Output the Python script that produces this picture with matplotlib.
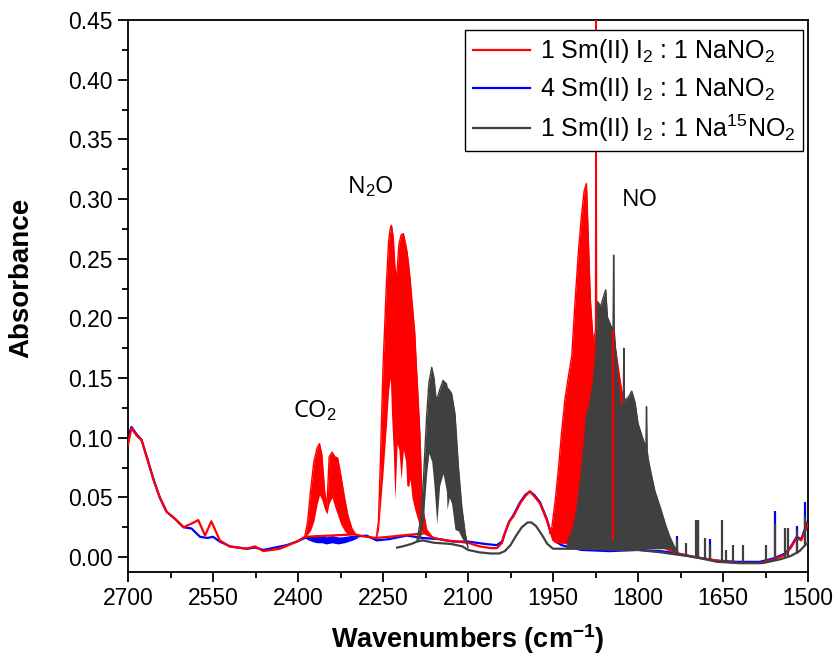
import numpy as np
import matplotlib
matplotlib.use("Agg")
import matplotlib.pyplot as plt

plt.rcParams['font.family'] = ['Liberation Sans', 'DejaVu Sans']
plt.rcParams['mathtext.fontset'] = 'custom'
plt.rcParams['mathtext.rm'] = 'Liberation Sans'
plt.rcParams['mathtext.it'] = 'Liberation Sans:italic'
plt.rcParams['mathtext.bf'] = 'Liberation Sans:bold'

RED = '#ff0000'
BLUE = '#0000ff'
GRAY = '#404040'

# ---------------- 1 SmI2 : 1 NaNO2 (red) ----------------
red_wn = [2700, 2694, 2685, 2676, 2667, 2655, 2644, 2632, 2617, 2602, 2588, 2576, 2564,
          2553, 2538, 2520, 2490, 2476, 2461, 2432, 2402, 2388, 2300, 2280, 2262,
          2175, 2160, 2140, 2120, 2100, 2080, 2060, 2049, 2040, 2035, 2027, 2020, 2008,
          1999, 1991, 1983, 1973, 1961, 1955, 1945, 1935, 1900, 1850, 1800, 1760, 1730,
          1700, 1660, 1625, 1585, 1560, 1540, 1530, 1520, 1512, 1505, 1500]
red_ab = [0.094, 0.108, 0.102, 0.098, 0.084, 0.065, 0.050, 0.038, 0.032, 0.025, 0.028, 0.031, 0.018,
          0.030, 0.014, 0.0087, 0.007, 0.009, 0.005, 0.007, 0.013, 0.017, 0.019, 0.017, 0.016,
          0.020, 0.016, 0.014, 0.013, 0.012, 0.009, 0.0075, 0.0075, 0.012, 0.020, 0.030, 0.034, 0.045,
          0.051, 0.055, 0.051, 0.045, 0.031, 0.022, 0.013, 0.012, 0.012, 0.011, 0.010, 0.009, 0.003,
          0.000, -0.003, -0.005, -0.005, -0.002, 0.002, 0.008, 0.016, 0.014, 0.022, 0.028]

# CO2 band envelope
red_co2_wn = [2388, 2383, 2378, 2372, 2366, 2362, 2358, 2353, 2349, 2345, 2340, 2335, 2330,
              2325, 2318, 2312, 2305, 2298]
red_co2_hi = [0.017, 0.030, 0.055, 0.080, 0.092, 0.095, 0.086, 0.055, 0.042, 0.084, 0.088, 0.084, 0.083,
              0.070, 0.050, 0.035, 0.024, 0.019]
red_co2_lo = [0.017, 0.019, 0.022, 0.030, 0.045, 0.052, 0.048, 0.040, 0.036, 0.045, 0.050, 0.042, 0.035,
              0.028, 0.022, 0.019, 0.019, 0.019]

# N2O band envelope
red_n2o_wn = [2262, 2258, 2255, 2250, 2244, 2240, 2237, 2235, 2232, 2229, 2227, 2225, 2222, 2218,
              2214, 2210, 2208, 2205, 2202, 2199, 2194, 2191, 2188, 2185, 2182, 2179, 2173, 2165]
red_n2o_hi = [0.016, 0.030, 0.075, 0.159, 0.229, 0.265, 0.276, 0.278, 0.268, 0.243, 0.236, 0.240, 0.262, 0.270,
              0.271, 0.262, 0.257, 0.246, 0.232, 0.215, 0.188, 0.159, 0.132, 0.104, 0.062, 0.039, 0.023, 0.018]
red_n2o_lo = [0.016, 0.022, 0.040, 0.070, 0.110, 0.140, 0.150, 0.120, 0.090, 0.048, 0.070, 0.095, 0.090, 0.065,
              0.090, 0.080, 0.060, 0.059, 0.065, 0.050, 0.040, 0.035, 0.030, 0.026, 0.022, 0.020, 0.018, 0.017]

# NO band envelope
red_no_wn = [1956, 1952, 1946, 1940, 1935, 1929, 1923, 1917, 1911, 1905, 1900, 1895, 1891, 1888, 1884,
             1879, 1875, 1874, 1873, 1868, 1862, 1857, 1852, 1847, 1841, 1835, 1829, 1825, 1815, 1805,
             1795, 1785, 1775, 1765, 1755, 1745]
red_no_hi = [0.020, 0.025, 0.048, 0.076, 0.104, 0.132, 0.151, 0.168, 0.215, 0.257, 0.285, 0.307, 0.313, 0.271,
             0.215, 0.180, 0.190, 0.460, 0.190, 0.190, 0.200, 0.200, 0.196, 0.190, 0.179, 0.159, 0.140, 0.129,
             0.110, 0.090, 0.070, 0.050, 0.035, 0.022, 0.014, 0.010]
red_no_lo = [0.020, 0.014] + [0.012] * 34

# isolated sharp red lines: (wavenumber, bottom, top)
red_lines = [(1845, 0.014, 0.190)]

# ---------------- 4 SmI2 : 1 NaNO2 (blue) ----------------
blue_wn = [2700, 2694, 2685, 2676, 2667, 2655, 2644, 2632, 2617, 2602, 2588, 2573, 2560, 2550,
           2538, 2520, 2490, 2476, 2461, 2420, 2402, 2388, 2367, 2350, 2330, 2302, 2279, 2261,
           2240, 2208, 2180, 2150, 2126, 2100, 2070, 2049, 2040, 2035, 2027, 2020, 2008, 1999,
           1991, 1983, 1973, 1961, 1955, 1945, 1935, 1900, 1850, 1800, 1760, 1730, 1700, 1660,
           1625, 1585, 1560, 1540, 1530, 1520, 1512, 1505, 1500]
blue_ab = [0.100, 0.109, 0.103, 0.098, 0.084, 0.065, 0.050, 0.038, 0.032, 0.025, 0.024, 0.017, 0.016, 0.017,
           0.013, 0.009, 0.007, 0.008, 0.006, 0.010, 0.013, 0.016, 0.016, 0.015, 0.015, 0.017, 0.018, 0.014,
           0.015, 0.018, 0.016, 0.015, 0.013, 0.013, 0.011, 0.010, 0.013, 0.020, 0.030, 0.035, 0.046, 0.052,
           0.055, 0.052, 0.046, 0.032, 0.022, 0.013, 0.010, 0.006, 0.005, 0.006, 0.005, 0.003, 0.000, -0.003,
           -0.004, -0.004, -0.001, 0.003, 0.009, 0.017, 0.015, 0.024, 0.030]
# CO2 region thickness
blue_co2_wn = [2385, 2375, 2367, 2358, 2350, 2340, 2330, 2318, 2305, 2295]
blue_co2_hi = [0.016, 0.018, 0.019, 0.018, 0.017, 0.018, 0.017, 0.016, 0.017, 0.017]
blue_co2_lo = [0.015, 0.013, 0.012, 0.012, 0.011, 0.012, 0.011, 0.012, 0.014, 0.016]
blue_lines = [(1732, 0.002, 0.018), (1695, 0.000, 0.031), (1673, -0.003, 0.015),
              (1558, -0.003, 0.039), (1520, 0.004, 0.026), (1505, 0.012, 0.046)]

# ---------------- 1 SmI2 : 1 Na15NO2 (dark gray) ----------------
gray_wn = [2225, 2215, 2200, 2190, 2180, 2160, 2130, 2110, 2100, 2080, 2060, 2045, 2035, 2025, 2015,
           2005, 1995, 1988, 1980, 1970, 1960, 1950, 1940, 1920, 1880, 1840, 1800, 1760, 1730, 1700,
           1660, 1620, 1580, 1550, 1530, 1515, 1505, 1500]
gray_ab = [0.008, 0.009, 0.011, 0.013, 0.014, 0.012, 0.011, 0.009, 0.006, 0.004, 0.003, 0.003, 0.005, 0.010, 0.018,
           0.025, 0.029, 0.029, 0.026, 0.019, 0.011, 0.007, 0.007, 0.007, 0.007, 0.006, 0.006, 0.004, 0.002, 0.000,
           -0.004, -0.005, -0.005, -0.002, 0.001, 0.005, 0.010, 0.012]

gray_n2o_wn = [2190, 2184, 2179, 2173, 2169, 2164, 2160, 2157, 2155, 2150, 2144, 2138, 2137, 2133, 2129,
               2123, 2117, 2111, 2105, 2100]
gray_n2o_hi = [0.014, 0.030, 0.062, 0.118, 0.146, 0.159, 0.150, 0.135, 0.132, 0.140, 0.148, 0.145, 0.142, 0.140,
               0.137, 0.120, 0.076, 0.042, 0.020, 0.008]
gray_n2o_lo = [0.014, 0.016, 0.030, 0.070, 0.087, 0.080, 0.060, 0.040, 0.028, 0.060, 0.070, 0.055, 0.040, 0.050,
               0.045, 0.023, 0.022, 0.016, 0.012, 0.008]

gray_no_wn = [1926, 1923, 1914, 1908, 1902, 1896, 1891, 1885, 1879, 1874, 1871, 1866, 1861, 1857, 1854,
              1848, 1844, 1843, 1842, 1840, 1835, 1831, 1826, 1825, 1824, 1822, 1817, 1811, 1805, 1800,
              1792, 1786, 1785, 1784, 1782, 1776, 1770, 1761, 1752, 1744, 1736, 1730]
gray_no_hi = [0.008, 0.014, 0.025, 0.039, 0.062, 0.090, 0.118, 0.129, 0.146, 0.173, 0.214, 0.210, 0.218, 0.224,
              0.201, 0.194, 0.190, 0.253, 0.190, 0.176, 0.146, 0.123, 0.130, 0.175, 0.130, 0.132, 0.134, 0.139,
              0.129, 0.112, 0.100, 0.092, 0.126, 0.090, 0.082, 0.068, 0.055, 0.042, 0.028, 0.017, 0.009, 0.005]
gray_no_lo = [0.007] * 40 + [0.004, 0.003]

gray_lines = [(1732, 0.002, 0.014), (1715, 0.001, 0.0115), (1698, 0.000, 0.031), (1695, 0.000, 0.031),
              (1682, -0.002, 0.016), (1673, -0.003, 0.010), (1651, -0.004, 0.031), (1644, -0.004, 0.006),
              (1633, -0.005, 0.010), (1615, -0.005, 0.010), (1574, -0.005, 0.010), (1558, -0.003, 0.028),
              (1541, 0.000, 0.024), (1536, 0.000, 0.024), (1520, 0.003, 0.023), (1505, 0.010, 0.034)]

labels = [r'1 Sm(II) I$_2$ : 1 NaNO$_2$',
          r'4 Sm(II) I$_2$ : 1 NaNO$_2$',
          r'1 Sm(II) I$_2$ : 1 Na$^{15}$NO$_2$']

x_ticks = [2700, 2550, 2400, 2250, 2100, 1950, 1800, 1650, 1500]
y_ticks = [0.00, 0.05, 0.10, 0.15, 0.20, 0.25, 0.30, 0.35, 0.40, 0.45]

fig = plt.figure(figsize=(8.36, 6.57), dpi=100)
ax = fig.add_axes([128 / 836, 1 - 572 / 657, 680 / 836, 552 / 657])

LW = 1.6


def draw_band(wn, lo, hi, color, z):
    ax.fill_between(wn, lo, hi, color=color, lw=0, zorder=z)
    ax.plot(wn, hi, color=color, lw=1.0, zorder=z)


def draw_lines(lines, color, z):
    for w, lo, hi in lines:
        ax.vlines(w, lo, hi, color=color, lw=1.6, zorder=z)


# blue
hb, = ax.plot(blue_wn, blue_ab, color=BLUE, lw=LW, zorder=2)
ax.fill_between(blue_co2_wn, blue_co2_lo, blue_co2_hi, color=BLUE, lw=0, zorder=2)
draw_lines(blue_lines, BLUE, 2)

# red
hr, = ax.plot(red_wn, red_ab, color=RED, lw=LW, zorder=3)
draw_band(red_co2_wn, red_co2_lo, red_co2_hi, RED, 3)
draw_band(red_n2o_wn, red_n2o_lo, red_n2o_hi, RED, 3)
draw_band(red_no_wn, red_no_lo, red_no_hi, RED, 3)

# dark gray
hg, = ax.plot(gray_wn, gray_ab, color=GRAY, lw=LW, zorder=4)
draw_band(gray_n2o_wn, gray_n2o_lo, gray_n2o_hi, GRAY, 4)
draw_band(gray_no_wn, gray_no_lo, gray_no_hi, GRAY, 4)
draw_lines(gray_lines, GRAY, 4)

draw_lines(red_lines, RED, 5)

ax.set_xlim(2700, 1500)
ax.set_ylim(-0.0125, 0.45)
ax.set_xticks(x_ticks)
ax.set_xticks(np.arange(1500, 2701, 75), minor=True)
ax.set_yticks(y_ticks)
ax.set_yticks(np.arange(0, 0.451, 0.025), minor=True)
ax.set_yticklabels([f'{v:.2f}' for v in y_ticks])
ax.tick_params(axis='both', which='major', direction='out', length=7, width=1.3,
               labelsize=16.5, pad=4, top=False, right=False)
ax.tick_params(axis='both', which='minor', direction='out', length=4, width=1.3,
               top=False, right=False)
for s in ax.spines.values():
    s.set_linewidth(1.3)

ax.set_xlabel(r'Wavenumbers (cm$^{\mathbf{-1}}$)', fontsize=19.5, fontweight='bold')
ax.set_ylabel('Absorbance', fontsize=20, fontweight='bold')
ax.xaxis.set_label_coords(0.5, -0.091)
ax.yaxis.set_label_coords(-0.138, 0.533)

ann_font = dict(family=['Open Sans', 'DejaVu Sans'], fontsize=17, ha='center', va='center')
ax.text(2370, 0.123, r'CO$_2$', **ann_font)
ax.text(2273, 0.310, r'N$_2$O', **ann_font)
ax.text(1796, 0.299, 'NO', **ann_font)

leg = ax.legend([hr, hb, hg], labels, loc='upper right', bbox_to_anchor=(0.993, 0.982),
                borderaxespad=0, fontsize=18, frameon=True, fancybox=False,
                framealpha=1, edgecolor='black', handlelength=2.3, handletextpad=0.4,
                labelspacing=0.38, borderpad=0.3, handleheight=0.6)
leg.get_frame().set_linewidth(1.0)
leg.set_zorder(10)

fig.savefig('out.png', dpi=100)
